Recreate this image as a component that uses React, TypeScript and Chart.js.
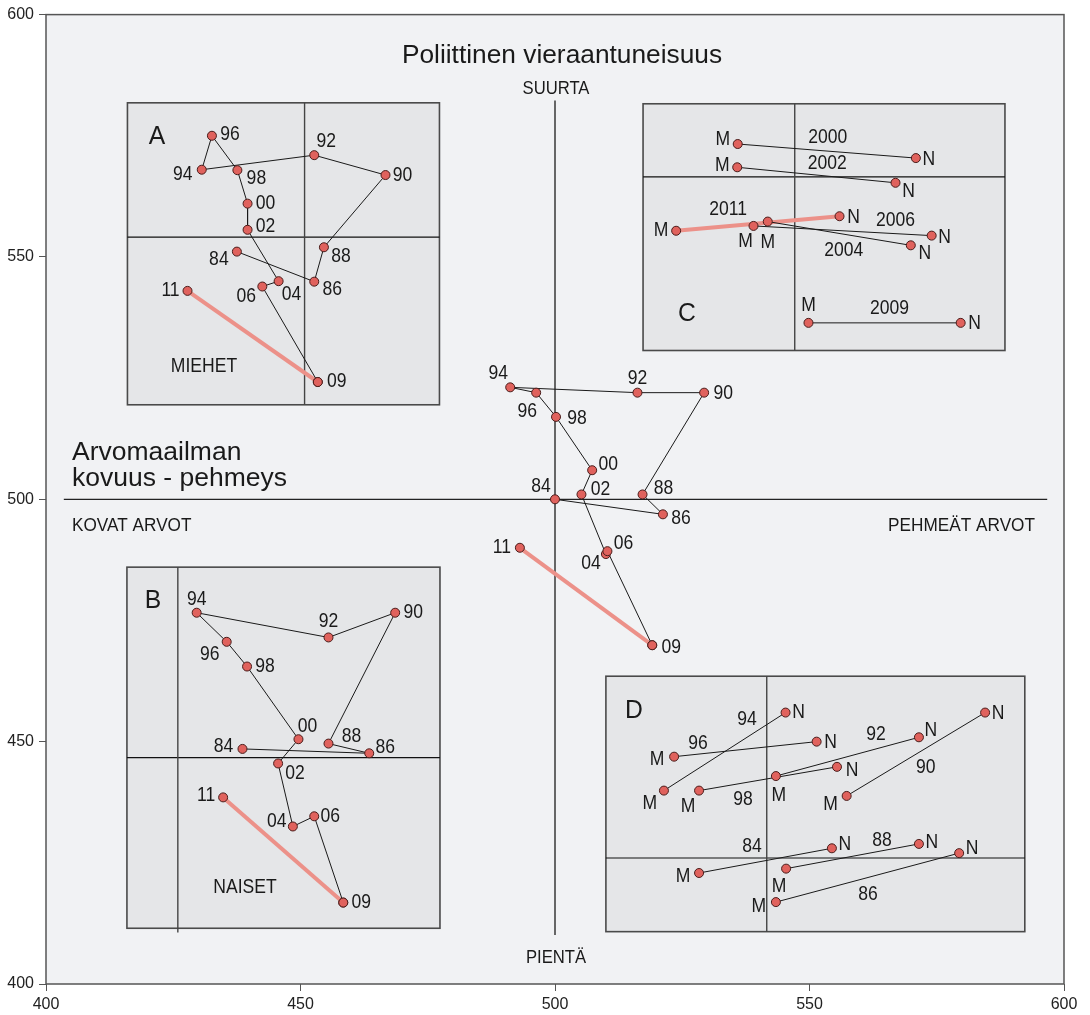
import React, { useEffect, useRef } from "react";
import { Chart, registerables } from "chart.js";

Chart.register(...registerables);

// ---------- data ----------
const X_TICKS = [400, 450, 500, 550, 600];
const Y_TICKS = [400, 450, 500, 550, 600];

// path order: 84 -> ... -> 09, then 09 -> 11 highlighted
const PATH_LABELS = ["84", "86", "88", "90", "92", "94", "96", "98", "00", "02", "04", "06", "09", "11"];

const ALL_X = [500.0, 521.2, 517.2, 529.3, 516.2, 491.2, 496.3, 500.2, 507.3, 505.2, 510.0, 510.3, 519.1, 493.1];
const ALL_Y = [500.0, 496.9, 501.0, 522.0, 522.0, 523.1, 522.0, 517.0, 506.0, 501.0, 488.7, 489.3, 469.9, 490.0];

const MEN_X = [437.5, 452.7, 454.6, 466.7, 452.7, 430.6, 432.6, 437.6, 439.6, 439.6, 445.7, 442.5, 453.4, 427.8];
const MEN_Y = [551.1, 544.9, 552.0, 566.9, 571.0, 568.0, 575.0, 567.9, 561.0, 555.6, 545.0, 543.9, 524.2, 543.0];

const WOMEN_X = [438.6, 463.5, 455.5, 468.6, 455.5, 429.6, 435.5, 439.5, 449.6, 445.6, 448.5, 452.7, 458.4, 434.8];
const WOMEN_Y = [448.5, 447.6, 449.6, 476.6, 471.5, 476.6, 470.6, 465.5, 450.5, 445.5, 432.5, 434.6, 416.8, 438.5];

// panel C: M -> N pairs per year
const C_YEARS = ["2000", "2002", "2004", "2006", "2009", "2011"];
const C_M_X = [535.9, 535.8, 541.8, 539.0, 549.8, 523.8];
const C_M_Y = [573.3, 568.5, 557.3, 556.4, 536.4, 555.4];
const C_N_X = [570.9, 566.9, 569.9, 574.0, 579.7, 555.9];
const C_N_Y = [570.4, 565.3, 552.4, 554.4, 536.4, 558.4];
const C_HIGHLIGHT = "2011";

// panel D: M -> N pairs per year
const D_YEARS = ["84", "86", "88", "90", "92", "94", "96", "98"];
const D_M_X = [528.3, 543.4, 545.4, 557.3, 543.4, 521.4, 523.4, 528.3];
const D_M_Y = [422.9, 416.9, 423.8, 438.8, 442.9, 439.9, 446.9, 439.9];
const D_N_X = [554.4, 579.4, 571.5, 584.5, 571.5, 545.3, 551.4, 555.4];
const D_N_Y = [428.0, 427.0, 428.9, 456.0, 450.9, 456.0, 450.0, 444.8];

// ---------- layout / style ----------
const ALL_OFFS = [[-14, -13], [18, 4], [21, -6], [19, 1], [0, -14], [-12, -14], [-9, 19], [21, 2], [16, -6], [19, -5], [-15, 10], [16, -8], [19, 2], [-18, 0]];
const MEN_OFFS = [[-18, 8], [18, 8], [17, 9], [17, 1], [12, -14], [-19, 5], [18, -1], [19, 8], [18, 0], [18, -3], [13, 13], [-16, 10], [19, 0], [-17, 0]];
const WOMEN_OFFS = [[-19, -2], [16, -6], [23, -7], [18, 0], [0, -16], [0, -13], [-17, 13], [18, 0], [9, -13], [17, 10], [-16, -5], [16, 0], [18, 0], [-17, -2]];

const C_M_OFFS = [[-15, -4], [-15, -2], [0, 21], [-8, 16], [0, -17], [-15, 0]];
const C_N_OFFS = [[13, 2], [13, 9], [14, 8], [13, 2], [14, 1], [14, 1]];
const C_Y_OFFS = [[90, -6], [90, -4], [76, 29], [142, -5], [81, -14], [52, -21]];

const D_M_OFFS = [[-16, 4], [-17, 5], [-7, 18], [-16, 9], [3, 20], [-14, 13], [-17, 3], [-11, 16]];
const D_N_OFFS = [[13, -4], [13, -5], [13, -1], [13, 1], [12, -7], [13, 0], [14, 1], [15, 4]];
const D_Y_OFFS = [[53, -26], [92, -7], [96, -28], [79, -28], [100, -41], [83, -71], [24, -13], [44, 9]];

const PANELS = [
  { x0: 416.0, x1: 477.3, y0: 519.5, y1: 581.8, cx: 450.8, cy: 554.1, vy0: 519.5 },
  { x0: 415.9, x1: 477.4, y0: 411.5, y1: 486.0, cx: 425.9, cy: 446.7, vy0: 410.6 },
  { x0: 517.3, x1: 588.4, y0: 530.7, y1: 581.6, cx: 547.1, cy: 566.5, vy0: 530.7 },
  { x0: 510.0, x1: 592.3, y0: 410.8, y1: 463.5, cx: 541.6, cy: 426.0, vy0: 410.8 },
];

const FONT = '"Liberation Sans", Arial, Helvetica, sans-serif';
const PLOT_BG = "#f1f2f4";
const PANEL_BG = "#e5e6e8";
const POINT_FILL = "#e0625d";
const POINT_EDGE = "#4a1d1b";
const SALMON = "#ec9189";
const INK = "#1a1a1a";

function drawText(
  ctx: CanvasRenderingContext2D,
  s: string,
  x: number,
  y: number,
  size: number,
  align: CanvasTextAlign = "center",
  sx = 0.9,
  baseline: CanvasTextBaseline = "middle"
) {
  ctx.save();
  ctx.translate(x, y);
  ctx.scale(sx, 1);
  ctx.font = `${size}px ${FONT}`;
  ctx.textAlign = align;
  ctx.textBaseline = baseline;
  ctx.fillStyle = INK;
  ctx.fillText(s, 0, 0);
  ctx.restore();
}

const decor = {
  id: "decor",
  beforeDraw(chart: any) {
    const { ctx, chartArea: a } = chart;
    ctx.save();
    ctx.fillStyle = "#ffffff";
    ctx.fillRect(0, 0, chart.width, chart.height);
    ctx.fillStyle = PLOT_BG;
    ctx.fillRect(a.left, a.top, a.right - a.left, a.bottom - a.top);
    ctx.strokeStyle = "#555";
    ctx.lineWidth = 1.5;
    ctx.strokeRect(a.left, a.top, a.right - a.left, a.bottom - a.top);
    ctx.restore();
  },
  beforeDatasetsDraw(chart: any) {
    const { ctx } = chart;
    const xs = chart.scales.x;
    const ys = chart.scales.y;
    const X = (v: number) => xs.getPixelForValue(v);
    const Y = (v: number) => ys.getPixelForValue(v);
    ctx.save();
    // central cross
    ctx.strokeStyle = "#666";
    ctx.lineWidth = 2;
    ctx.beginPath();
    ctx.moveTo(X(500), Y(582.3));
    ctx.lineTo(X(500), Y(410.1));
    ctx.stroke();
    ctx.strokeStyle = "#222";
    ctx.lineWidth = 1.2;
    ctx.beginPath();
    ctx.moveTo(X(403.5), Y(500));
    ctx.lineTo(X(596.7), Y(500));
    ctx.stroke();
    // panels
    for (const p of PANELS) {
      const l = X(p.x0), r = X(p.x1), t = Y(p.y1), b = Y(p.y0);
      ctx.fillStyle = PANEL_BG;
      ctx.fillRect(l, t, r - l, b - t);
      ctx.strokeStyle = "#4a4a4a";
      ctx.lineWidth = 1.6;
      ctx.strokeRect(l, t, r - l, b - t);
      ctx.strokeStyle = "#111";
      ctx.lineWidth = 1.2;
      ctx.beginPath();
      ctx.moveTo(l, Y(p.cy));
      ctx.lineTo(r, Y(p.cy));
      ctx.stroke();
      ctx.strokeStyle = "#444";
      ctx.lineWidth = 1.4;
      ctx.beginPath();
      ctx.moveTo(X(p.cx), t);
      ctx.lineTo(X(p.cx), Y(p.vy0));
      ctx.stroke();
    }
    ctx.restore();
  },
  afterDatasetsDraw(chart: any) {
    const { ctx } = chart;
    const xs = chart.scales.x;
    const ys = chart.scales.y;
    const X = (v: number) => xs.getPixelForValue(v);
    const Y = (v: number) => ys.getPixelForValue(v);
    const S = 19.5;

    const pathLabels = (xa: number[], ya: number[], offs: number[][]) => {
      PATH_LABELS.forEach((lab, i) => {
        drawText(ctx, lab, X(xa[i]) + offs[i][0], Y(ya[i]) + offs[i][1], S);
      });
    };
    pathLabels(ALL_X, ALL_Y, ALL_OFFS);
    pathLabels(MEN_X, MEN_Y, MEN_OFFS);
    pathLabels(WOMEN_X, WOMEN_Y, WOMEN_OFFS);

    C_YEARS.forEach((yr, i) => {
      const mx = X(C_M_X[i]), my = Y(C_M_Y[i]);
      drawText(ctx, "M", mx + C_M_OFFS[i][0], my + C_M_OFFS[i][1], S);
      drawText(ctx, "N", X(C_N_X[i]) + C_N_OFFS[i][0], Y(C_N_Y[i]) + C_N_OFFS[i][1], S);
      drawText(ctx, yr, mx + C_Y_OFFS[i][0], my + C_Y_OFFS[i][1], S);
    });
    D_YEARS.forEach((yr, i) => {
      const mx = X(D_M_X[i]), my = Y(D_M_Y[i]);
      drawText(ctx, "M", mx + D_M_OFFS[i][0], my + D_M_OFFS[i][1], S);
      drawText(ctx, "N", X(D_N_X[i]) + D_N_OFFS[i][0], Y(D_N_Y[i]) + D_N_OFFS[i][1], S);
      drawText(ctx, yr, mx + D_Y_OFFS[i][0], my + D_Y_OFFS[i][1], S);
    });

    // panel letters and captions
    drawText(ctx, "A", 157, 137, 26, "center", 0.95);
    drawText(ctx, "B", 153, 601, 26, "center", 0.95);
    drawText(ctx, "C", 687, 314, 26, "center", 0.95);
    drawText(ctx, "D", 634, 711, 26, "center", 0.95);
    drawText(ctx, "MIEHET", 204, 367, 19.5);
    drawText(ctx, "NAISET", 245, 888, 19.5);

    // axis captions
    drawText(ctx, "Poliittinen vieraantuneisuus", 562, 63, 26.3, "center", 1, "alphabetic");
    drawText(ctx, "SUURTA", 556, 94, 18.5, "center", 0.9, "alphabetic");
    drawText(ctx, "PIENTÄ", 556, 963, 18.5, "center", 0.9, "alphabetic");
    drawText(ctx, "Arvomaailman", 72, 460, 26.5, "left", 1, "alphabetic");
    drawText(ctx, "kovuus - pehmeys", 72, 486, 26.5, "left", 1, "alphabetic");
    drawText(ctx, "KOVAT ARVOT", 72, 531, 18.5, "left", 0.93, "alphabetic");
    drawText(ctx, "PEHMEÄT ARVOT", 1035, 531, 18.5, "right", 0.93, "alphabetic");
  },
};

const pointStyle = {
  showLine: true,
  pointRadius: 4.5,
  pointHoverRadius: 4.5,
  pointBackgroundColor: POINT_FILL,
  pointBorderColor: POINT_EDGE,
  pointBorderWidth: 1,
  tension: 0,
  fill: false,
};

function buildDatasets() {
  const top: any[] = [];
  const bottom: any[] = [];
  const paths = [
    [ALL_X, ALL_Y],
    [MEN_X, MEN_Y],
    [WOMEN_X, WOMEN_Y],
  ];
  for (const [xa, ya] of paths) {
    const pts = xa.map((x, i) => ({ x, y: ya[i] }));
    const n = pts.length;
    top.push({ ...pointStyle, data: pts.slice(0, n - 1), borderColor: INK, borderWidth: 1 });
    bottom.push({ ...pointStyle, data: pts.slice(n - 2), borderColor: SALMON, borderWidth: 4 });
  }
  C_YEARS.forEach((yr, i) => {
    const hl = yr === C_HIGHLIGHT;
    top.push({
      ...pointStyle,
      data: [
        { x: C_M_X[i], y: C_M_Y[i] },
        { x: C_N_X[i], y: C_N_Y[i] },
      ],
      borderColor: hl ? SALMON : INK,
      borderWidth: hl ? 4 : 1,
    });
  });
  D_YEARS.forEach((yr, i) => {
    top.push({
      ...pointStyle,
      data: [
        { x: D_M_X[i], y: D_M_Y[i] },
        { x: D_N_X[i], y: D_N_Y[i] },
      ],
      borderColor: INK,
      borderWidth: 1,
    });
  });
  return [...top, ...bottom];
}

export default function App() {
  const ref = useRef<HTMLCanvasElement | null>(null);
  useEffect(() => {
    if (!ref.current) return;
    const tickFont = { family: FONT, size: 16 };
    const chart = new Chart(ref.current, {
      type: "scatter",
      data: { datasets: buildDatasets() },
      options: {
        animation: false,
        responsive: false,
        devicePixelRatio: 1,
        events: [],
        layout: { padding: { top: 14, right: 26, left: 0, bottom: 0 } },
        plugins: {
          legend: { display: false },
          tooltip: { enabled: false },
          title: { display: false },
        },
        scales: {
          x: {
            type: "linear",
            min: 400,
            max: 600,
            afterBuildTicks: (s: any) => {
              s.ticks = X_TICKS.map((v) => ({ value: v }));
            },
            afterFit: (s: any) => {
              s.height = 31;
            },
            border: { display: false },
            grid: { display: true, drawOnChartArea: false, drawTicks: true, tickLength: 7, color: "#555", lineWidth: 1 },
            ticks: { font: tickFont, color: "#222", padding: 4, maxRotation: 0 },
          },
          y: {
            type: "linear",
            min: 400,
            max: 600,
            afterBuildTicks: (s: any) => {
              s.ticks = Y_TICKS.map((v) => ({ value: v }));
            },
            afterFit: (s: any) => {
              s.width = 46;
            },
            border: { display: false },
            grid: { display: true, drawOnChartArea: false, drawTicks: true, tickLength: 7, color: "#555", lineWidth: 1 },
            ticks: { font: tickFont, color: "#222", padding: 5 },
          },
        },
      } as any,
      plugins: [decor],
    });
    return () => chart.destroy();
  }, []);
  return (
    <div style={{ position: "absolute", left: 0, top: 0, width: 1090, height: 1015 }}>
      <canvas ref={ref} width={1090} height={1015} style={{ display: "block", width: 1090, height: 1015 }} />
    </div>
  );
}
